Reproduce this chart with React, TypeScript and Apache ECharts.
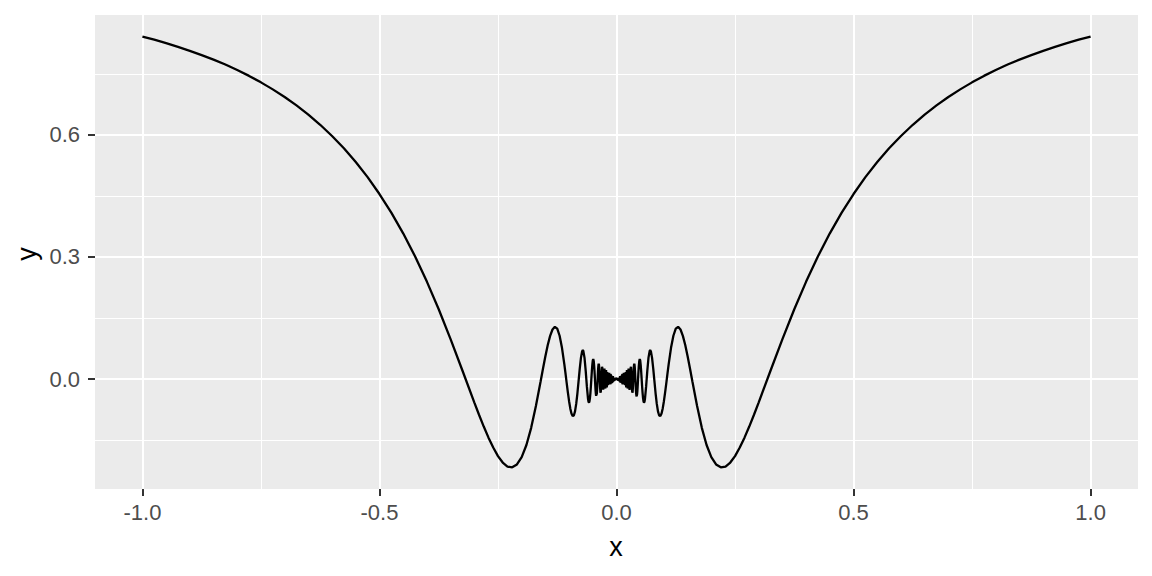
import React, { useEffect, useRef } from "react";
import * as echarts from "echarts";

// x values left of zero (ascending)
const xLeft = [
  -1, -0.975, -0.95, -0.925, -0.9, -0.875, -0.85, -0.825, -0.8, -0.775, -0.75, -0.725, -0.7, -0.675,
  -0.65, -0.625, -0.6, -0.575, -0.55, -0.525, -0.5, -0.475, -0.45, -0.425, -0.4, -0.375, -0.35, -0.325,
  -0.3, -0.29, -0.28, -0.27, -0.26, -0.25, -0.24, -0.23, -0.22, -0.21, -0.2, -0.19, -0.18, -0.17, -0.16,
  -0.155, -0.15, -0.145, -0.14, -0.135, -0.13, -0.125, -0.12, -0.115,
  -0.11, -0.1075, -0.105, -0.1025, -0.1, -0.0975, -0.095, -0.0925, -0.09, -0.0875, -0.085, -0.0825,
  -0.08, -0.0775, -0.075, -0.0725, -0.071, -0.07, -0.0675, -0.065, -0.0625,
  -0.06, -0.059, -0.058, -0.057, -0.056, -0.055, -0.054, -0.053,
  -0.052, -0.051, -0.05, -0.049, -0.048, -0.047, -0.046, -0.045,
  -0.0445, -0.044, -0.0435, -0.043, -0.0425, -0.042, -0.0415, -0.041, -0.0405, -0.04,
  -0.0395, -0.039, -0.0385, -0.038, -0.0375, -0.037, -0.0365, -0.036, -0.0355, -0.035,
  -0.0345, -0.034, -0.0335, -0.033, -0.0325, -0.032, -0.0315, -0.031, -0.0305, -0.03,
  -0.0295, -0.029, -0.0285, -0.028, -0.0275, -0.027, -0.0265, -0.026, -0.0255, -0.025,
  -0.0245, -0.024, -0.0235, -0.023, -0.0225, -0.022, -0.0215, -0.021, -0.0205, -0.02,
  -0.0195, -0.019, -0.0185, -0.018, -0.0175, -0.017, -0.0165, -0.016, -0.0155, -0.015,
  -0.0145, -0.014, -0.0135, -0.013, -0.0125, -0.012, -0.0115, -0.011, -0.0105, -0.01,
  -0.0095, -0.009, -0.0085, -0.008, -0.0075, -0.007, -0.0065, -0.006, -0.0055, -0.005,
  -0.0045, -0.004, -0.0035, -0.003, -0.0025, -0.002, -0.0015, -0.001, -0.0005,
];
const yLeft = [
  0.8415, 0.8337, 0.8252, 0.8159, 0.8064, 0.7958, 0.7849, 0.7727, 0.7592, 0.7448, 0.7289, 0.7117, 0.693,
  0.6723, 0.6497, 0.6247, 0.5972, 0.5669, 0.5333, 0.4961, 0.4546, 0.4089, 0.358, 0.3016, 0.2394, 0.1716,
  0.0982, 0.021,
  -0.0571, -0.0876, -0.1167, -0.1439, -0.1683, -0.1892, -0.2051, -0.2149, -0.2169, -0.2097, -0.1918,
  -0.162, -0.1198, -0.0663, -0.0053,
  0.026, 0.0561, 0.0835, 0.1061, 0.1218, 0.1283, 0.1237, 0.1064, 0.0767,
  0.036, 0.0131, -0.0104, -0.0333, -0.0544, -0.0721, -0.0847, -0.0909, -0.0895, -0.0794, -0.0611,
  -0.0355, -0.0053, 0.0256, 0.052, 0.0682, 0.0709, 0.0692, 0.0526, 0.0206, -0.018,
  -0.0491, -0.0558, -0.058, -0.055, -0.0469, -0.0341, -0.0176, 0.001,
  0.0193, 0.0351, 0.0456, 0.049, 0.044, 0.0308, 0.0115, -0.0103,
  -0.0206, -0.0295, -0.0365, -0.041, -0.0425, -0.0407, -0.0357, -0.0277, -0.0173, -0.0053,
  0.0072, 0.019, 0.0287, 0.0352, 0.0375, 0.0351, 0.028, 0.0171, 0.0037, -0.0102,
  -0.0225, -0.0309, -0.0335, -0.0296, -0.0196, -0.0053, 0.0102, 0.0231, 0.0299, 0.0282,
  0.0181, 0.0022, -0.0144, -0.0256, -0.0267, -0.0166, 0.001, 0.018, 0.0255, 0.0186,
  0.0006, -0.0176, -0.0233, -0.0111, 0.01, 0.0219, 0.0124, -0.01, -0.0204, -0.0052,
  0.0166, 0.0133, -0.0111, -0.0151, 0.0098, 0.013, -0.0131, -0.0052, 0.0154, -0.0096,
  -0.0022, 0.0103, -0.0131, 0.013, -0.0124, 0.012, -0.0097, 0.0022, 0.0088, -0.0051,
  -0.0095, -0.0082, -0.0084, -0.0049, 0.0074, -0.007, 0.0006, -0.001, -0.0021, -0.0044,
  0.0033, -0.0039, 0.0006, 0.0011, -0.0021, 0.002, 0.0009, 0.0008, 0.0005,
];

// x values from zero to the right (ascending)
const xRight = [
  0, 0.0005, 0.001, 0.0015, 0.002, 0.0025, 0.003, 0.0035, 0.004, 0.0045, 0.005,
  0.0055, 0.006, 0.0065, 0.007, 0.0075, 0.008, 0.0085, 0.009, 0.0095, 0.01,
  0.0105, 0.011, 0.0115, 0.012, 0.0125, 0.013, 0.0135, 0.014, 0.0145, 0.015,
  0.0155, 0.016, 0.0165, 0.017, 0.0175, 0.018, 0.0185, 0.019, 0.0195, 0.02,
  0.0205, 0.021, 0.0215, 0.022, 0.0225, 0.023, 0.0235, 0.024, 0.0245, 0.025,
  0.0255, 0.026, 0.0265, 0.027, 0.0275, 0.028, 0.0285, 0.029, 0.0295, 0.03,
  0.0305, 0.031, 0.0315, 0.032, 0.0325, 0.033, 0.0335, 0.034, 0.0345, 0.035,
  0.0355, 0.036, 0.0365, 0.037, 0.0375, 0.038, 0.0385, 0.039, 0.0395, 0.04,
  0.0405, 0.041, 0.0415, 0.042, 0.0425, 0.043, 0.0435, 0.044, 0.0445, 0.045,
  0.046, 0.047, 0.048, 0.049, 0.05, 0.051, 0.052,
  0.053, 0.054, 0.055, 0.056, 0.057, 0.058, 0.059, 0.06,
  0.0625, 0.065, 0.0675, 0.07, 0.071, 0.0725, 0.075, 0.0775, 0.08, 0.0825, 0.085, 0.0875, 0.09, 0.0925,
  0.095, 0.0975, 0.1, 0.1025, 0.105, 0.1075, 0.11,
  0.115, 0.12, 0.125, 0.13, 0.135, 0.14, 0.145, 0.15, 0.155,
  0.16, 0.17, 0.18, 0.19, 0.2, 0.21, 0.22, 0.23, 0.24, 0.25, 0.26, 0.27, 0.28, 0.29, 0.3,
  0.325, 0.35, 0.375, 0.4, 0.425, 0.45, 0.475, 0.5, 0.525, 0.55, 0.575, 0.6, 0.625, 0.65, 0.675, 0.7,
  0.725, 0.75, 0.775, 0.8, 0.825, 0.85, 0.875, 0.9, 0.925, 0.95, 0.975, 1,
];
const yRight = [
  0, 0.0005, 0.0008, 0.0009, 0.002, -0.0021, 0.0011, 0.0006, -0.0039, 0.0033, -0.0044,
  -0.0021, -0.001, 0.0006, -0.007, 0.0074, -0.0049, -0.0084, -0.0082, -0.0095, -0.0051,
  0.0088, 0.0022, -0.0097, 0.012, -0.0124, 0.013, -0.0131, 0.0103, -0.0022, -0.0096,
  0.0154, -0.0052, -0.0131, 0.013, 0.0098, -0.0151, -0.0111, 0.0133, 0.0166, -0.0052,
  -0.0204, -0.01, 0.0124, 0.0219, 0.01, -0.0111, -0.0233, -0.0176, 0.0006, 0.0186,
  0.0255, 0.018, 0.001, -0.0166, -0.0267, -0.0256, -0.0144, 0.0022, 0.0181, 0.0282,
  0.0299, 0.0231, 0.0102, -0.0053, -0.0196, -0.0296, -0.0335, -0.0309, -0.0225, -0.0102,
  0.0037, 0.0171, 0.028, 0.0351, 0.0375, 0.0352, 0.0287, 0.019, 0.0072, -0.0053,
  -0.0173, -0.0277, -0.0357, -0.0407, -0.0425, -0.041, -0.0365, -0.0295, -0.0206, -0.0103,
  0.0115, 0.0308, 0.044, 0.049, 0.0456, 0.0351, 0.0193,
  0.001, -0.0176, -0.0341, -0.0469, -0.055, -0.058, -0.0558, -0.0491,
  -0.018, 0.0206, 0.0526, 0.0692, 0.0709, 0.0682, 0.052, 0.0256, -0.0053, -0.0355, -0.0611, -0.0794,
  -0.0895, -0.0909, -0.0847, -0.0721, -0.0544, -0.0333, -0.0104, 0.0131, 0.036,
  0.0767, 0.1064, 0.1237, 0.1283, 0.1218, 0.1061, 0.0835, 0.0561, 0.026,
  -0.0053, -0.0663, -0.1198, -0.162, -0.1918, -0.2097, -0.2169, -0.2149, -0.2051, -0.1892, -0.1683,
  -0.1439, -0.1167, -0.0876, -0.0571,
  0.021, 0.0982, 0.1716, 0.2394, 0.3016, 0.358, 0.4089, 0.4546, 0.4961, 0.5333, 0.5669, 0.5972, 0.6247,
  0.6497, 0.6723, 0.693, 0.7117, 0.7289, 0.7448, 0.7592, 0.7727, 0.7849, 0.7958, 0.8064, 0.8159, 0.8252,
  0.8337, 0.8415,
];

const xMajorTicks = [-1, -0.5, 0, 0.5, 1];
const xMinorTicks = [-0.75, -0.25, 0.25, 0.75];
const yMajorTicks = [0, 0.3, 0.6];
const yMinorTicks = [-0.15, 0.15, 0.45, 0.75];

const X_MIN = -1.1;
const X_MAX = 1.1;
const Y_MIN = -0.2701;
const Y_MAX = 0.8944;

const FONT = "'Liberation Sans', Arial, Helvetica, sans-serif";

export default function App() {
  const ref = useRef<HTMLDivElement>(null);

  useEffect(() => {
    if (!ref.current) return;
    const chart = echarts.init(ref.current, null, { renderer: "svg" });

    const points: number[][] = [];
    xLeft.forEach((x, i) => points.push([x, yLeft[i]]));
    xRight.forEach((x, i) => points.push([x, yRight[i]]));

    const fmt = (v: number) => Number(v).toFixed(1);

    const majorX = {
      type: "value",
      min: X_MIN,
      max: X_MAX,
      position: "bottom",
      axisLine: { show: false, onZero: false },
      axisTick: {
        show: true,
        customValues: xMajorTicks,
        length: 7,
        lineStyle: { color: "#333333", width: 2 },
      },
      axisLabel: {
        show: true,
        customValues: xMajorTicks,
        formatter: fmt,
        color: "#4D4D4D",
        fontSize: 22,
        fontFamily: FONT,
        margin: 12,
      },
      splitLine: { show: true, lineStyle: { color: "#FFFFFF", width: 2 } },
      z: 1,
    };
    const minorX = {
      type: "value",
      min: X_MIN,
      max: X_MAX,
      position: "top",
      axisLine: { show: false, onZero: false },
      axisTick: { show: false, customValues: xMinorTicks },
      axisLabel: { show: false, customValues: xMinorTicks },
      splitLine: { show: true, lineStyle: { color: "#FFFFFF", width: 1 } },
      z: 0,
    };
    const majorY = {
      type: "value",
      min: Y_MIN,
      max: Y_MAX,
      position: "left",
      axisLine: { show: false, onZero: false },
      axisTick: {
        show: true,
        customValues: yMajorTicks,
        length: 7,
        lineStyle: { color: "#333333", width: 2 },
      },
      axisLabel: {
        show: true,
        customValues: yMajorTicks,
        formatter: fmt,
        color: "#4D4D4D",
        fontSize: 22,
        fontFamily: FONT,
        margin: 15,
      },
      splitLine: { show: true, lineStyle: { color: "#FFFFFF", width: 2 } },
      z: 1,
    };
    const minorY = {
      type: "value",
      min: Y_MIN,
      max: Y_MAX,
      position: "right",
      axisLine: { show: false, onZero: false },
      axisTick: { show: false, customValues: yMinorTicks },
      axisLabel: { show: false, customValues: yMinorTicks },
      splitLine: { show: true, lineStyle: { color: "#FFFFFF", width: 1 } },
      z: 0,
    };

    chart.setOption({
      animation: false,
      backgroundColor: "#FFFFFF",
      grid: {
        left: 95,
        right: 14,
        top: 15,
        bottom: 87,
        show: true,
        backgroundColor: "#EBEBEB",
        borderWidth: 0,
        containLabel: false,
      },
      xAxis: [majorX, minorX],
      yAxis: [majorY, minorY],
      series: [
        {
          type: "line",
          xAxisIndex: 0,
          yAxisIndex: 0,
          data: points,
          showSymbol: false,
          symbol: "none",
          smooth: false,
          lineStyle: { color: "#000000", width: 2.3 },
          clip: true,
          z: 5,
          silent: true,
        },
      ],
      graphic: [
        {
          type: "text",
          x: 616,
          y: 547,
          style: {
            text: "x",
            fill: "#000000",
            font: `27px ${FONT}`,
            textAlign: "center",
            textVerticalAlign: "middle",
          },
        },
        {
          type: "text",
          x: 27,
          y: 254,
          rotation: Math.PI / 2,
          style: {
            text: "y",
            fill: "#000000",
            font: `27px ${FONT}`,
            textAlign: "center",
            textVerticalAlign: "middle",
          },
        },
      ],
    });

    return () => chart.dispose();
  }, []);

  return (
    <div
      ref={ref}
      style={{ position: "absolute", left: 0, top: 0, width: 1152, height: 576 }}
    />
  );
}
